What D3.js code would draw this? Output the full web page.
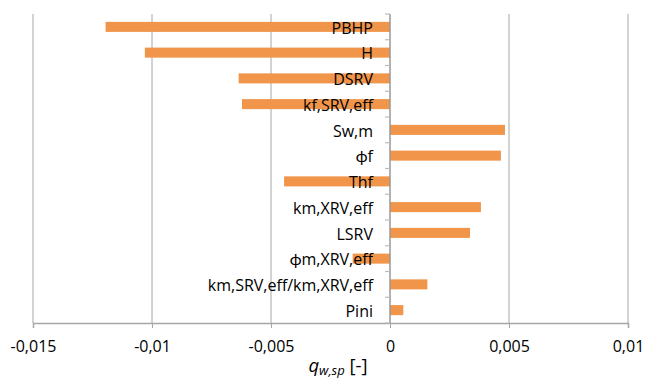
<!DOCTYPE html>
<html>
<head>
<meta charset="utf-8">
<script src="https://d3js.org/d3.v7.min.js"></script>
<style>
  body { margin: 0; background: #fff; }
  text { font-family: "Open Sans", Lato, sans-serif; fill: #000; }
</style>
</head>
<body>
<script>
// ** data
var categories = ["PBHP", "H", "DSRV", "kf,SRV,eff", "Sw,m", "\u03d5f", "Thf",
                  "km,XRV,eff", "LSRV", "\u03d5m,XRV,eff", "km,SRV,eff/km,XRV,eff", "Pini"];
var values = [-0.01195, -0.0103, -0.00636, -0.00622, 0.00483, 0.00466, -0.00445,
              0.00382, 0.00336, -0.00157, 0.00157, 0.00056];
var xTicks = [-0.015, -0.01, -0.005, 0, 0.005, 0.01];
var xTickLabels = ["-0,015", "-0,01", "-0,005", "0", "0,005", "0,01"];

var data = categories.map(function(c, i){ return { name: c, value: values[i] }; });

// ** canvas
var width = 645, height = 383;
var plot = { left: 33, right: 628, top: 14, bottom: 323 };
var barColor = "#f0954a";
var gridColor = "#a6a6a6";
var fontSize = "16px";

var svg = d3.select("body").append("svg")
    .attr("width", width)
    .attr("height", height);

// *** scales
var x = d3.scaleLinear().domain([-0.015, 0.01]).range([plot.left, plot.right]);
var y = d3.scaleBand().domain(categories)
    .range([plot.top, plot.bottom])
    .paddingInner(0.61)
    .paddingOuter(0.305);

// *** vertical gridlines
svg.append("g").selectAll("line")
    .data(xTicks.filter(function(d){ return d !== 0; }))
    .enter().append("line")
    .attr("x1", function(d){ return x(d); })
    .attr("x2", function(d){ return x(d); })
    .attr("y1", plot.top)
    .attr("y2", plot.bottom)
    .attr("stroke", gridColor)
    .attr("stroke-width", 1);

// *** bars
svg.append("g").selectAll("rect")
    .data(data)
    .enter().append("rect")
    .attr("x", function(d){ return Math.min(x(0), x(d.value)); })
    .attr("width", function(d){ return Math.abs(x(d.value) - x(0)); })
    .attr("y", function(d){ return y(d.name); })
    .attr("height", y.bandwidth())
    .attr("fill", barColor);

// *** bottom axis
var xAxis = d3.axisBottom(x)
    .tickValues(xTicks)
    .tickFormat(function(d, i){ return xTickLabels[i]; })
    .tickSize(5)
    .tickPadding(13);
var gx = svg.append("g")
    .attr("transform", "translate(0," + plot.bottom + ")")
    .call(xAxis);
gx.select(".domain").attr("stroke", gridColor).attr("stroke-width", 1.5);
gx.selectAll(".tick line").attr("stroke", gridColor);
gx.selectAll(".tick text")
    .style("font-size", fontSize)
    .attr("fill", "#000");

// *** zero axis with category ticks
var step = y.step();
var bounds = d3.range(categories.length + 1).map(function(i){
    return i < categories.length ? y(categories[i]) - step * y.paddingInner() / 2 : plot.bottom;
});
var gy = svg.append("g");
gy.append("line")
    .attr("x1", x(0)).attr("x2", x(0))
    .attr("y1", plot.top).attr("y2", plot.bottom)
    .attr("stroke", "#999").attr("stroke-width", 1.5);
gy.selectAll("line.tick")
    .data(bounds)
    .enter().append("line")
    .attr("class", "tick")
    .attr("x1", x(0) - 5).attr("x2", x(0))
    .attr("y1", function(d){ return d; })
    .attr("y2", function(d){ return d; })
    .attr("stroke", "#bbb").attr("stroke-width", 1.2);

// *** category labels (drawn over the bars)
svg.append("g").selectAll("text")
    .data(data)
    .enter().append("text")
    .attr("x", x(0) - 17)
    .attr("y", function(d){ return y(d.name) + y.bandwidth() / 2; })
    .attr("dy", "0.42em")
    .attr("text-anchor", "end")
    .style("font-size", fontSize)
    .text(function(d){ return d.name; });

// *** axis title
var title = svg.append("text")
    .attr("x", 338)
    .attr("y", 372)
    .attr("text-anchor", "middle")
    .style("font-size", "18.5px");
title.append("tspan").style("font-style", "italic").text("q");
title.append("tspan").attr("dy", 3).style("font-size", "13px").style("font-style", "italic").text("w,sp");
title.append("tspan").attr("dy", -3).text(" [-]");
</script>
</body>
</html>
